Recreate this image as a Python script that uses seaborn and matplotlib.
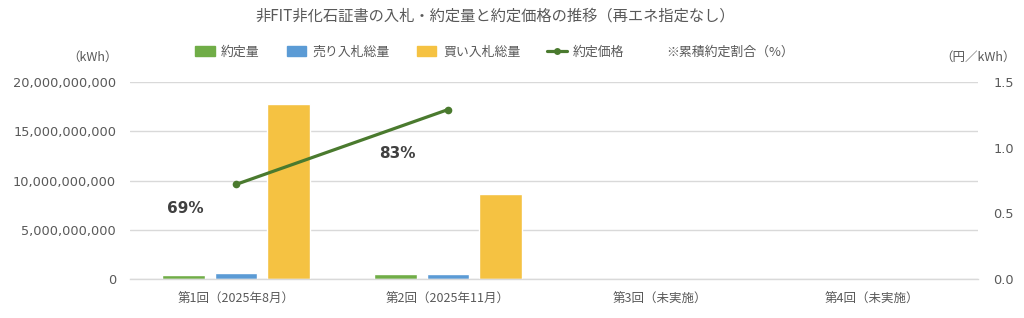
import numpy as np
import pandas as pd
import matplotlib
matplotlib.use("Agg")
import matplotlib.pyplot as plt
import matplotlib.patches as mpatches
import matplotlib.lines as mlines
from matplotlib.ticker import FuncFormatter
import seaborn as sns

# ---- data ----
categories = ['第1回（2025年8月）', '第2回（2025年11月）', '第3回（未実施）', '第4回（未実施）']
series = ['約定量', '売り入札総量', '買い入札総量']
contract_vol = [0.40e9, 0.54e9, np.nan, np.nan]
sell_vol = [0.62e9, 0.53e9, np.nan, np.nan]
buy_vol = [17.75e9, 8.65e9, np.nan, np.nan]
price = [0.72, 1.29, np.nan, np.nan]
ratio_labels = ['69%', '83%']
line_label = '約定価格'
note_label = '※累積約定割合（%）'
title = '非FIT非化石証書の入札・約定量と約定価格の推移（再エネ指定なし）'
left_unit = '（kWh）'
right_unit = '（円／kWh）'

colors = ['#70AD47', '#5B9BD5', '#F5C242']
line_color = '#4A7A2E'
text_color = '#595959'
grid_color = '#D9D9D9'

sns.set_theme(style='white')
plt.rcParams['font.family'] = ['DejaVu Sans', 'Noto Sans CJK JP']
JP = ['Noto Sans CJK JP', 'DejaVu Sans']

df = pd.DataFrame({
    '回': categories * 3,
    '系列': sum([[s] * len(categories) for s in series], []),
    '値': contract_vol + sell_vol + buy_vol,
})

fig = plt.figure(figsize=(10.24, 3.18), dpi=100)
ax = fig.add_axes([130 / 1024, 1 - 279 / 318, (978 - 130) / 1024, (279 - 82) / 318])

sns.barplot(data=df, x='回', y='値', hue='系列', order=categories, hue_order=series,
            palette=colors, width=0.74, gap=0.18, errorbar=None, saturation=1,
            ax=ax, legend=False)

ax.set_xlim(-0.5, len(categories) - 0.5)
ax.set_ylim(0, 20e9)
ax.set_yticks(np.arange(0, 20e9 + 1, 5e9))
ax.yaxis.set_major_formatter(FuncFormatter(lambda v, p: f'{v:,.0f}'))
ax.grid(axis='y', color=grid_color, linewidth=1.0)
ax.set_axisbelow(True)
for s in ['top', 'right', 'left']:
    ax.spines[s].set_visible(False)
ax.spines['bottom'].set_color(grid_color)
ax.spines['bottom'].set_linewidth(1.0)
ax.tick_params(axis='y', length=0, pad=10, labelsize=9.3, labelcolor=text_color)
ax.tick_params(axis='x', length=0, pad=10, labelcolor=text_color)
ax.set_xlabel('')
ax.set_ylabel('')
for lbl in ax.get_xticklabels():
    lbl.set_fontfamily(JP)
    lbl.set_fontsize(9)

ax2 = ax.twinx()
sns.lineplot(x=np.arange(len(categories)), y=price, ax=ax2, color=line_color,
             linewidth=2.3, marker='o', markersize=5.5, markeredgewidth=0)
ax2.set_ylim(0, 1.5)
ax2.set_yticks([0, 0.5, 1.0, 1.5])
ax2.yaxis.set_major_formatter(FuncFormatter(lambda v, p: f'{v:.1f}'))
for s in ax2.spines.values():
    s.set_visible(False)
ax2.tick_params(axis='y', length=0, pad=11, labelsize=9.3, labelcolor=text_color)
ax2.grid(False)
ax.set_xlim(-0.5, len(categories) - 0.5)

# cumulative contract ratio annotations
label_y = [7.2e9, 12.7e9]
for i, (t, yv) in enumerate(zip(ratio_labels, label_y)):
    ax.text(i - 0.24, yv, t, ha='center', va='center', fontsize=11,
            fontweight='bold', color='#404040')

# title & unit labels
fig.text(0.484, 1 - 16 / 318, title, ha='center', va='center', fontsize=11,
         color=text_color, fontfamily=JP)
fig.text(92 / 1024, 1 - 57 / 318, left_unit, ha='center', va='center', fontsize=9,
         color=text_color, fontfamily=JP)
fig.text(978 / 1024, 1 - 57 / 318, right_unit, ha='center', va='center', fontsize=9,
         color=text_color, fontfamily=JP)

# legend
handles = [mpatches.Patch(color=c, label=s) for c, s in zip(colors, series)]
handles.append(mlines.Line2D([], [], color=line_color, linewidth=2.3, marker='o',
                             markersize=5, markeredgewidth=0, label=line_label))
leg = fig.legend(handles=handles, loc='center', bbox_to_anchor=(410 / 1024, 1 - 52 / 318),
                 ncol=4, frameon=False, handlelength=1.5, handleheight=0.7,
                 handletextpad=0.5, columnspacing=2.1,
                 prop={'family': JP, 'size': 9.3})
for t in leg.get_texts():
    t.set_color(text_color)
fig.text(666 / 1024, 1 - 52 / 318, note_label, ha='left', va='center', fontsize=9.3,
         color=text_color, fontfamily=JP)

fig.savefig('out.png', dpi=100)
